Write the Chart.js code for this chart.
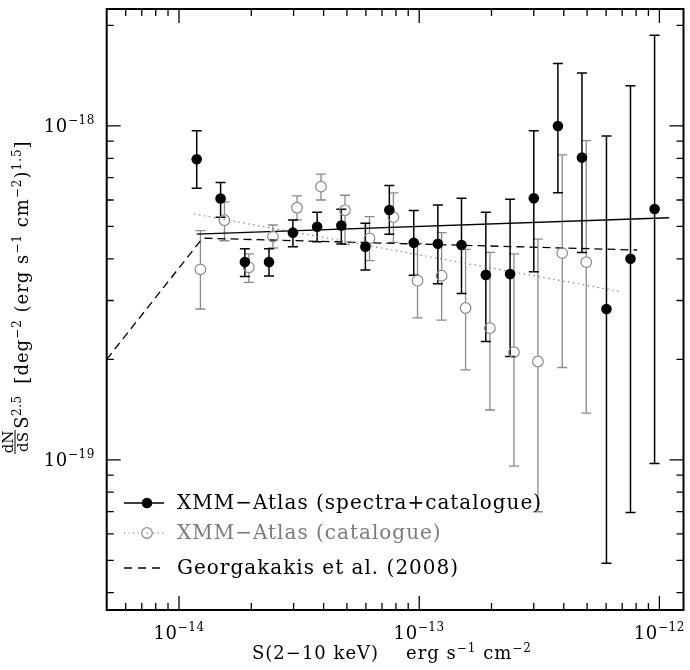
<!DOCTYPE html>
<html><head><meta charset="utf-8">
<script src="https://cdn.jsdelivr.net/npm/chart.js@4.4.1/dist/chart.umd.min.js"></script>
<style>html,body{margin:0;padding:0;background:#fff}#wrap{width:690px;height:670px;position:relative}</style>
</head><body><div id="wrap"><canvas id="c"></canvas></div>
<script>
// ---- data (flux in erg s^-1 cm^-2, dN/dS S^2.5 in deg^-2 (erg s^-1 cm^-2)^1.5) ----
const specFlux = [1.185e-14, 1.49e-14, 1.88e-14, 2.37e-14, 2.98e-14, 3.76e-14, 4.74e-14, 5.97e-14, 7.51e-14, 9.49e-14, 1.196e-13, 1.50e-13, 1.894e-13, 2.39e-13, 3.00e-13, 3.78e-13, 4.76e-13, 6.02e-13, 7.58e-13, 9.55e-13];
const specVal  = [7.95e-19, 6.06e-19, 3.91e-19, 3.91e-19, 4.79e-19, 4.99e-19, 5.03e-19, 4.35e-19, 5.60e-19, 4.47e-19, 4.44e-19, 4.40e-19, 3.58e-19, 3.60e-19, 6.07e-19, 1.0e-18, 8.04e-19, 2.83e-19, 4.0e-19, 5.64e-19];
const specHi   = [9.68e-19, 6.77e-19, 4.29e-19, 4.29e-19, 5.23e-19, 5.51e-19, 5.63e-19, 5.11e-19, 6.63e-19, 5.58e-19, 5.80e-19, 6.07e-19, 5.51e-19, 6.03e-19, 9.68e-19, 1.537e-18, 1.441e-18, 9.33e-19, 1.32e-18, 1.87e-18];
const specLo   = [6.51e-19, 5.33e-19, 3.54e-19, 3.55e-19, 4.35e-19, 4.50e-19, 4.43e-19, 3.70e-19, 4.74e-19, 3.57e-19, 3.37e-19, 3.15e-19, 2.26e-19, 2.04e-19, 3.66e-19, 6.31e-19, 4.18e-19, 4.90e-20, 6.96e-20, 9.75e-20];

const catFlux = [1.228e-14, 1.546e-14, 1.953e-14, 2.46e-14, 3.10e-14, 3.90e-14, 4.91e-14, 6.21e-14, 7.81e-14, 9.84e-14, 1.24e-13, 1.56e-13, 1.97e-13, 2.48e-13, 3.12e-13, 3.94e-13, 4.96e-13];
const catVal  = [3.72e-19, 5.22e-19, 3.77e-19, 4.66e-19, 5.69e-19, 6.58e-19, 5.59e-19, 4.60e-19, 5.33e-19, 3.44e-19, 3.56e-19, 2.85e-19, 2.48e-19, 2.10e-19, 1.97e-19, 4.16e-19, 3.91e-19];
const catHi   = [4.86e-19, 5.92e-19, 4.14e-19, 5.05e-19, 6.17e-19, 7.17e-19, 6.20e-19, 5.35e-19, 6.30e-19, 4.45e-19, 4.79e-19, 4.27e-19, 4.18e-19, 4.14e-19, 4.58e-19, 8.19e-19, 9.04e-19];
const catLo   = [2.83e-19, 4.53e-19, 3.40e-19, 4.31e-19, 5.23e-19, 6.00e-19, 4.42e-19, 3.95e-19, 4.48e-19, 2.66e-19, 2.62e-19, 1.86e-19, 1.41e-19, 9.57e-20, 6.99e-20, 1.89e-19, 1.38e-19];

const specFitFlux = [1.185e-14, 1.098e-12];
const specFitVal  = [4.74e-19, 5.31e-19];
const catFitFlux  = [1.155e-14, 6.93e-13];
const catFitVal   = [5.45e-19, 3.19e-19];
const geoFlux = [5.0e-15, 1.235e-14, 1.28e-14, 8.08e-13];
const geoVal  = [2.0e-19, 4.55e-19, 4.61e-19, 4.25e-19];

const xRange = [5.0e-15, 1.26e-12];
const yRange = [3.55e-20, 2.24e-18];
const xMajorTicks = [1e-14, 1e-13, 1e-12];
const xTickExp    = ['\u221214', '\u221213', '\u221212'];
const xMinorTicks = [6e-15, 7e-15, 8e-15, 9e-15, 2e-14, 3e-14, 4e-14, 5e-14, 6e-14, 7e-14, 8e-14, 9e-14, 2e-13, 3e-13, 4e-13, 5e-13, 6e-13, 7e-13, 8e-13, 9e-13];
const yMajorTicks = [1e-19, 1e-18];
const yTickExp    = ['\u221219', '\u221218'];
const yMinorTicks = [4e-20, 5e-20, 6e-20, 7e-20, 8e-20, 9e-20, 2e-19, 3e-19, 4e-19, 5e-19, 6e-19, 7e-19, 8e-19, 9e-19, 2e-18];

const legendLabels = ['XMM\u2212Atlas (spectra+catalogue)', 'XMM\u2212Atlas (catalogue)', 'Georgakakis et al. (2008)'];

const FONT = '"DejaVu Serif"';
const GREY = '#8a8a8a';
const pts = (xs, ys) => xs.map((x, i) => ({x: x, y: ys[i]}));

function richWidth(ctx, segs, size, supSize) {
  let w = 0;
  for (const s of segs) { ctx.font = (s.sup ? supSize : size) + 'px ' + FONT; w += ctx.measureText(s.t).width; }
  return w;
}
function drawRich(ctx, segs, x, y, size, supSize, rise, align, spacing) {
  ctx.letterSpacing = (spacing || 0) + 'px';
  const w = richWidth(ctx, segs, size, supSize);
  let cx = align === 'center' ? x - w / 2 : (align === 'right' ? x - w : x);
  ctx.textAlign = 'left'; ctx.textBaseline = 'alphabetic';
  for (const s of segs) {
    ctx.font = (s.sup ? supSize : size) + 'px ' + FONT;
    ctx.fillText(s.t, cx, s.sup ? y - rise : y);
    cx += ctx.measureText(s.t).width;
  }
  ctx.letterSpacing = '0px';
}

const errorBars = {
  id: 'errorBars',
  beforeDatasetsDraw(chart) {
    const ctx = chart.ctx, xs = chart.scales.x, ys = chart.scales.y, a = chart.chartArea;
    ctx.save();
    ctx.beginPath(); ctx.rect(a.left, a.top, a.right - a.left, a.bottom - a.top); ctx.clip();
    const draw = (fx, v, hi, lo, color, lw, gapR) => {
      ctx.strokeStyle = color; ctx.lineWidth = lw;
      for (let i = 0; i < fx.length; i++) {
        const px = xs.getPixelForValue(fx[i]);
        const pv = ys.getPixelForValue(v[i]);
        const ph = ys.getPixelForValue(hi[i]);
        const pl = ys.getPixelForValue(lo[i]);
        ctx.beginPath();
        ctx.moveTo(px, ph); ctx.lineTo(px, pv - gapR);
        ctx.moveTo(px, pv + gapR); ctx.lineTo(px, pl);
        ctx.moveTo(px - 5, ph); ctx.lineTo(px + 5, ph);
        ctx.moveTo(px - 5, pl); ctx.lineTo(px + 5, pl);
        ctx.stroke();
      }
    };
    draw(catFlux, catVal, catHi, catLo, GREY, 1.3, 5.3);
    draw(specFlux, specVal, specHi, specLo, '#000', 1.5, 0);
    ctx.restore();
  }
};

const frame = {
  id: 'frame',
  afterDraw(chart) {
    const ctx = chart.ctx, xs = chart.scales.x, ys = chart.scales.y, a = chart.chartArea;
    ctx.save();
    ctx.strokeStyle = '#000'; ctx.fillStyle = '#000';
    // ticks
    ctx.lineWidth = 1.3;
    ctx.beginPath();
    const MAJ = 14, MIN = 7;
    for (const v of xMajorTicks) { const p = xs.getPixelForValue(v); ctx.moveTo(p, a.bottom); ctx.lineTo(p, a.bottom - MAJ); ctx.moveTo(p, a.top); ctx.lineTo(p, a.top + MAJ); }
    for (const v of xMinorTicks) { const p = xs.getPixelForValue(v); ctx.moveTo(p, a.bottom); ctx.lineTo(p, a.bottom - MIN); ctx.moveTo(p, a.top); ctx.lineTo(p, a.top + MIN); }
    for (const v of yMajorTicks) { const p = ys.getPixelForValue(v); ctx.moveTo(a.left, p); ctx.lineTo(a.left + MAJ, p); ctx.moveTo(a.right, p); ctx.lineTo(a.right - MAJ, p); }
    for (const v of yMinorTicks) { const p = ys.getPixelForValue(v); ctx.moveTo(a.left, p); ctx.lineTo(a.left + MIN, p); ctx.moveTo(a.right, p); ctx.lineTo(a.right - MIN, p); }
    ctx.stroke();
    // box
    ctx.lineWidth = 2;
    ctx.strokeRect(a.left, a.top, a.right - a.left, a.bottom - a.top);
    // tick labels
    xMajorTicks.forEach((v, i) => {
      const p = xs.getPixelForValue(v);
      drawRich(ctx, [{t: '10'}, {t: xTickExp[i], sup: true}], p, a.bottom + 29, 18, 12, 8, 'center', 0.6);
    });
    yMajorTicks.forEach((v, i) => {
      const p = ys.getPixelForValue(v);
      drawRich(ctx, [{t: '10'}, {t: yTickExp[i], sup: true}], 95, p + 6, 18, 12, 8, 'right', 0.6);
    });
    // x title
    drawRich(ctx, [{t: 'S(2\u221210 keV)    erg s'}, {t: '\u22121', sup: true}, {t: ' cm'}, {t: '\u22122', sup: true}],
      392, 659, 18, 12, 7, 'center', 1.0);
    // y title (rotated)
    ctx.save();
    ctx.translate(28, 0);
    ctx.rotate(-Math.PI / 2);
    drawRich(ctx, [{t: '[deg'}, {t: '\u22122', sup: true}, {t: ' (erg s'}, {t: '\u22121', sup: true}, {t: ' cm'}, {t: '\u22122', sup: true}, {t: ')'}, {t: '1.5', sup: true}, {t: ']'}],
      -262, 0, 18, 12, 7, 'center', 1.0);
    drawRich(ctx, [{t: 'S'}, {t: '2.5', sup: true}], -412, 0, 18, 12, 7, 'center', 0.5);
    // fraction dN/dS
    ctx.font = '15px ' + FONT; ctx.textAlign = 'center'; ctx.textBaseline = 'alphabetic';
    ctx.fillText('dN', -442, -15);
    ctx.fillText('dS', -442, 0);
    ctx.lineWidth = 1; ctx.beginPath(); ctx.moveTo(-454, -13); ctx.lineTo(-430, -13); ctx.stroke();
    ctx.restore();
    // legend
    const rows = [503, 533, 568];
    const lx0 = 124, lx1 = 164, mx = 147, tx = 177;
    ctx.lineWidth = 1.3;
    // row 1
    ctx.strokeStyle = '#000'; ctx.setLineDash([]);
    ctx.beginPath(); ctx.moveTo(lx0, rows[0]); ctx.lineTo(lx1, rows[0]); ctx.stroke();
    ctx.beginPath(); ctx.arc(mx, rows[0], 5.3, 0, 2 * Math.PI); ctx.fill();
    // row 2
    ctx.strokeStyle = GREY; ctx.setLineDash([1.5, 3]); ctx.lineWidth = 1.2;
    ctx.beginPath(); ctx.moveTo(lx0, rows[1]); ctx.lineTo(mx - 6, rows[1]); ctx.moveTo(mx + 6, rows[1]); ctx.lineTo(lx1, rows[1]); ctx.stroke();
    ctx.setLineDash([]);
    ctx.beginPath(); ctx.arc(mx, rows[1], 5.3, 0, 2 * Math.PI); ctx.stroke();
    ctx.beginPath(); ctx.arc(mx, rows[1], 0.8, 0, 2 * Math.PI); ctx.fillStyle = GREY; ctx.fill();
    // row 3
    ctx.strokeStyle = '#000'; ctx.setLineDash([8, 6]); ctx.lineWidth = 1.3;
    ctx.beginPath(); ctx.moveTo(lx0, rows[2]); ctx.lineTo(lx1, rows[2]); ctx.stroke();
    ctx.setLineDash([]);
    ctx.letterSpacing = '1px';
    ctx.font = '20px ' + FONT; ctx.textAlign = 'left'; ctx.textBaseline = 'middle';
    ctx.fillStyle = '#000'; ctx.fillText(legendLabels[0], tx, rows[0] + 1);
    ctx.fillStyle = '#7a7a7a'; ctx.fillText(legendLabels[1], tx, rows[1] + 1);
    ctx.fillStyle = '#000'; ctx.fillText(legendLabels[2], tx, rows[2] + 1);
    ctx.letterSpacing = '0px';
    ctx.restore();
  }
};

new Chart(document.getElementById('c'), {
  type: 'scatter',
  data: {
    datasets: [
      { label: legendLabels[0], data: pts(specFlux, specVal), pointRadius: 5.3, pointHoverRadius: 5.3,
        backgroundColor: '#000', borderColor: '#000', borderWidth: 0, showLine: false },
      { label: legendLabels[1], data: pts(catFlux, catVal), pointRadius: 5.3, pointHoverRadius: 5.3,
        backgroundColor: 'rgba(0,0,0,0)', borderColor: GREY, borderWidth: 1.2, showLine: false },
      { label: 'spectra fit', data: pts(specFitFlux, specFitVal), showLine: true, pointRadius: 0,
        borderColor: '#000', borderWidth: 1.3, fill: false },
      { label: 'catalogue fit', data: pts(catFitFlux, catFitVal), showLine: true, pointRadius: 0,
        borderColor: GREY, borderWidth: 1.2, borderDash: [1.5, 3.5], fill: false },
      { label: legendLabels[2], data: pts(geoFlux, geoVal), showLine: true, pointRadius: 0,
        borderColor: '#000', borderWidth: 1.3, borderDash: [8, 5], fill: false, tension: 0 }
    ]
  },
  options: {
    responsive: true, maintainAspectRatio: false, animation: false,
    layout: { padding: { left: 106.7, top: 9, right: 3.3, bottom: 60 } },
    plugins: { legend: { display: false }, tooltip: { enabled: false } },
    scales: {
      x: { type: 'logarithmic', min: xRange[0], max: xRange[1], display: false },
      y: { type: 'logarithmic', min: yRange[0], max: yRange[1], display: false }
    }
  },
  plugins: [errorBars, frame]
});
</script>
</body></html>
